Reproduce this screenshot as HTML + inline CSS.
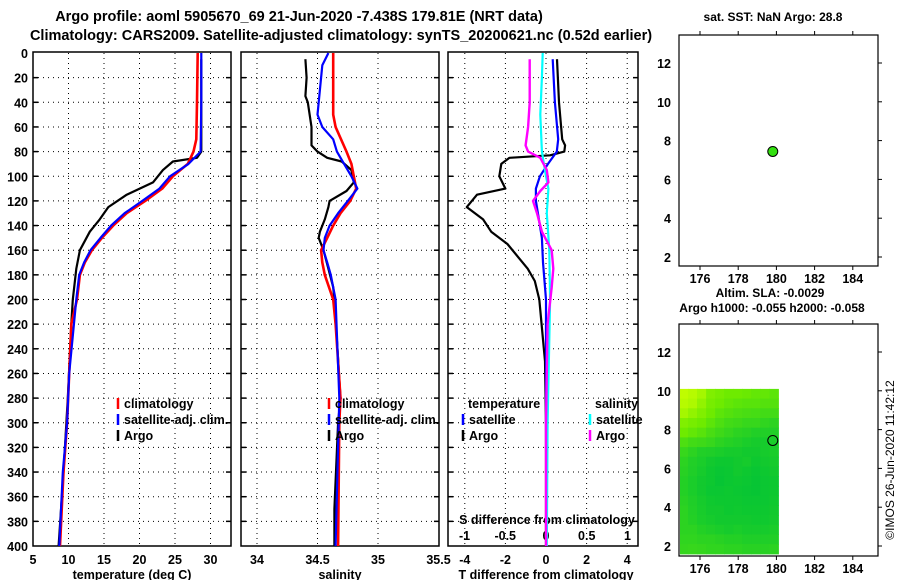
<!DOCTYPE html>
<html><head><meta charset="utf-8"><style>
html,body{margin:0;padding:0;background:#fff;}
svg{display:block;font-family:"Liberation Sans",sans-serif;font-weight:bold;}
</style></head><body>
<svg id="c" width="900" height="580" xmlns="http://www.w3.org/2000/svg"></svg>
<script>
// ---- data ----
const tempClimDepth = [0,40,70,80,90,100,110,120,130,140,150,160,170,180,200,220,260,300,340,400];
const tempClimVal   = [28.2,28.1,28.0,27.6,26.8,24.7,23.2,20.8,18.2,16.3,14.7,13.3,12.3,11.6,11.2,10.4,10.1,9.8,9.3,8.8];
const tempSatDepth  = [0,40,80,90,100,110,120,130,140,150,160,170,180,200,260,300,340,400];
const tempSatVal    = [28.7,28.7,28.6,26.9,24.3,22.8,20.4,17.9,16.0,14.5,13.1,12.2,11.5,11.1,10.1,9.8,9.2,8.7];
const tempArgoDepth = [5,80,85,88,95,105,115,125,135,145,160,175,200,220,280,340,400];
const tempArgoVal   = [28.7,28.7,28.1,24.7,23.3,21.9,18.2,15.6,14.4,13.0,11.6,11.1,10.6,10.4,9.9,9.3,8.6];

const salClimDepth = [0,50,60,80,90,100,110,120,130,140,150,160,170,180,200,220,280,300,400];
const salClimVal   = [34.63,34.63,34.65,34.74,34.78,34.80,34.82,34.77,34.69,34.63,34.58,34.53,34.54,34.56,34.63,34.65,34.69,34.68,34.67];
const salSatDepth  = [0,10,30,50,60,70,80,90,100,110,120,130,140,150,160,170,180,200,280,400];
const salSatVal    = [34.59,34.54,34.52,34.50,34.54,34.63,34.66,34.72,34.78,34.83,34.75,34.67,34.60,34.56,34.55,34.58,34.61,34.65,34.68,34.65];
const salArgoDepth = [5,20,35,40,60,75,80,85,88,95,105,112,120,125,135,145,150,160,175,190,200,280,300,370,400];
const salArgoVal   = [34.40,34.41,34.40,34.42,34.45,34.45,34.50,34.58,34.70,34.78,34.80,34.74,34.60,34.59,34.56,34.52,34.51,34.55,34.59,34.63,34.64,34.69,34.67,34.64,34.64];

const tdArgoDepth = [5,40,70,75,80,83,85,90,100,110,115,125,135,145,155,165,175,185,200,250,300,400];
const tdArgoVal   = [0.54,0.64,0.8,0.94,0.9,0.2,-1.8,-2.2,-2.3,-2.0,-3.4,-3.9,-3.1,-2.7,-1.9,-1.4,-0.9,-0.55,-0.33,-0.05,0,0];
const tdSatDepth  = [5,40,70,80,90,100,110,120,130,150,170,200,300,400];
const tdSatVal    = [0.33,0.44,0.6,0.53,0.1,-0.3,-0.5,-0.5,-0.4,-0.2,-0.15,0,0,0.02];
const sdArgoDepth = [5,40,60,75,80,85,95,105,112,120,130,145,160,175,190,220,300,400];
const sdArgoVal   = [-0.2,-0.2,-0.22,-0.25,-0.22,-0.07,0.01,0.03,-0.07,-0.16,-0.11,-0.05,0.07,0.09,0.07,0.02,0,0];
const sdSatDepth  = [0,20,50,80,100,110,130,160,200,300,400];
const sdSatVal    = [-0.04,-0.05,-0.07,-0.05,0,0.03,0.01,0.04,0.05,0.02,0.01];

const depthTicks = [0,20,40,60,80,100,120,140,160,180,200,220,240,260,280,300,320,340,360,380,400];
const tempTicks = [5,10,15,20,25,30];
const salTicks = ["34","34.5","35","35.5"];
const tdTicks = [-4,-2,0,2,4];
const sdTicks = ["-1","-0.5","0","0.5","1"];
const lonTicks = [176,178,180,182,184];
const latTicks = [2,4,6,8,10,12];
const argoLon = [179.81];
const argoLat = [7.44];
// SLA heatmap values (rows from lat 10 downward, cols from lon 175 eastward), 1 = high (yellow)
const slaGrid = [
 [0.95,0.9,0.8,0.6,0.55,0.5,0.5,0.48,0.45,0.45,0.42],
 [0.9,0.85,0.7,0.55,0.5,0.45,0.42,0.4,0.4,0.38,0.38],
 [0.8,0.7,0.6,0.5,0.42,0.38,0.35,0.33,0.32,0.3,0.3],
 [0.6,0.55,0.5,0.42,0.35,0.3,0.28,0.25,0.25,0.22,0.2],
 [0.5,0.45,0.4,0.33,0.28,0.24,0.2,0.18,0.15,0.15,0.15],
 [0.35,0.3,0.28,0.25,0.2,0.17,0.15,0.12,0.1,0.1,0.12],
 [0.25,0.2,0.15,0.14,0.12,0.1,0.1,0.08,0.08,0.1,0.12],
 [0.2,0.15,0.12,0.08,0.06,0.06,0.08,0.1,0.06,0.08,0.1],
 [0.18,0.14,0.1,0.06,0.04,0.05,0.08,0.06,0.04,0.06,0.08],
 [0.16,0.12,0.08,0.06,0.03,0.05,0.06,0.05,0.03,0.05,0.06],
 [0.16,0.12,0.08,0.05,0.05,0.06,0.05,0.04,0.03,0.05,0.06],
 [0.18,0.14,0.1,0.07,0.06,0.06,0.06,0.05,0.05,0.05,0.07],
 [0.2,0.15,0.11,0.08,0.08,0.06,0.07,0.06,0.06,0.06,0.08],
 [0.2,0.16,0.12,0.1,0.08,0.08,0.08,0.08,0.07,0.07,0.09],
 [0.2,0.2,0.16,0.14,0.12,0.1,0.12,0.1,0.1,0.1,0.12],
 [0.22,0.22,0.2,0.2,0.18,0.16,0.16,0.14,0.14,0.14,0.15],
 [0.24,0.25,0.24,0.22,0.22,0.2,0.2,0.18,0.18,0.18,0.2]
];

// ---- drawing ----
const svgEl = document.getElementById('c');
const NS = 'http://www.w3.org/2000/svg';
function mk(tag, attrs, parent){const el=document.createElementNS(NS,tag);for(const k in attrs)el.setAttribute(k,attrs[k]);(parent||svgEl).appendChild(el);return el;}
function txt(x,y,s,size,anchor,parent){const tt=mk('text',{x:x,y:y,'font-size':size,'text-anchor':anchor||'middle',fill:'#000'},parent);tt.textContent=s;return tt;}

const Y0=53, Y1=546;
const yD = d => Y0 + d*(Y1-Y0)/400;
const xT = v => 33 + (v-5)*7.1;
const xS = v => 257 + (v-34)*121;
const xTD = v => 546 + v*20.3;
const xSD = v => 546 + v*81.5;

function panelFrame(x0,x1,name,xgrid){
  const g=mk('g',{});
  
  
  mk('rect',{x:x0,y:Y0-1,width:x1-x0,height:Y1-Y0+1,fill:'#fff',stroke:'#000','stroke-width':1.5},g);
  depthTicks.forEach(d=>{ if(d>0&&d<400){ mk('line',{x1:x0,x2:x1,y1:yD(d),y2:yD(d),stroke:'#000','stroke-width':1,'stroke-dasharray':'1,4'},g);
    mk('line',{x1:x0,x2:x0+5,y1:yD(d),y2:yD(d),stroke:'#000','stroke-width':1.5},g);
    mk('line',{x1:x1-5,x2:x1,y1:yD(d),y2:yD(d),stroke:'#000','stroke-width':1.5},g);} });
  xgrid.forEach(x=>{ mk('line',{x1:x,x2:x,y1:Y0,y2:Y1,stroke:'#000','stroke-width':1,'stroke-dasharray':'1,4'},g);});
  return g;
}
function line(xs,depths,vals,color,w,name){
  const p=depths.map((d,i)=>xs(vals[i]).toFixed(1)+','+yD(d).toFixed(1)).join(' ');
  const el=mk('polyline',{points:p,fill:'none',stroke:color,'stroke-width':w,'stroke-linejoin':'round'});
  
  
}
function legend(mx,y,color,label,name){
  const g=mk('g',{});
  
  
  mk('line',{x1:mx,x2:mx,y1:y-10,y2:y+1,stroke:color,'stroke-width':2.5},g);
  txt(mx+6,y,label,12.5,'start',g);
}

// titles
let lab=txt(299,21,'Argo profile: aoml 5905670_69 21-Jun-2020 -7.438S 179.81E (NRT data)',14.5);


lab=txt(341,40,'Climatology: CARS2009. Satellite-adjusted climatology: synTS_20200621.nc (0.52d earlier)',14.5);



// panel 1
panelFrame(33,231,'temperature-panel',tempTicks.slice(1).map(xT));
depthTicks.forEach(d=>{const el=txt(28,yD(d)+5,String(d),12.5,'end');

});
tempTicks.forEach(v=>{const el=txt(xT(v),564,String(v),12.5);

});
lab=txt(132,579,'temperature (deg C)',12.5);


line(xT,tempArgoDepth,tempArgoVal,'#000',2.2,'temperature-argo-line');
line(xT,tempClimDepth,tempClimVal,'#f00',2.6,'temperature-climatology-line');
line(xT,tempSatDepth,tempSatVal,'#00f',2.2,'temperature-satellite-line');
legend(118,408,'#f00','climatology','legend-climatology');
legend(118,424,'#00f','satellite-adj. clim.','legend-satellite');
legend(118,440,'#000','Argo','legend-argo');

// panel 2
panelFrame(241,439,'salinity-panel',salTicks.slice(0,3).map(v=>xS(+v)));
salTicks.forEach(v=>{const el=txt(xS(+v),564,v,12.5);

});
lab=txt(340,579,'salinity',12.5);


line(xS,salArgoDepth,salArgoVal,'#000',2.2,'salinity-argo-line');
line(xS,salClimDepth,salClimVal,'#f00',2.6,'salinity-climatology-line');
line(xS,salSatDepth,salSatVal,'#00f',2.2,'salinity-satellite-line');
legend(329,408,'#f00','climatology','legend-climatology-2');
legend(329,424,'#00f','satellite-adj. clim.','legend-satellite-2');
legend(329,440,'#000','Argo','legend-argo-2');

// panel 3
panelFrame(448,638,'difference-panel',tdTicks.map(xTD));
tdTicks.forEach(v=>{const el=txt(xTD(v),564,String(v),12.5);

});
lab=txt(546,579,'T difference from climatology',12.5);


lab=txt(547,524,'S difference from climatology',12.5);


sdTicks.forEach(v=>{const el=txt(xSD(+v),540,v,12.5);

});
line(xTD,tdArgoDepth,tdArgoVal,'#000',2.2,'t-diff-argo-line');
line(xTD,tdSatDepth,tdSatVal,'#00f',2.2,'t-diff-satellite-line');
line(xSD,sdSatDepth,sdSatVal,'#0ff',2.2,'s-diff-satellite-line');
line(xSD,sdArgoDepth,sdArgoVal,'#f0f',2.4,'s-diff-argo-line');
lab=txt(468,408,'temperature',12.5,'start');


lab=txt(595,408,'salinity',12.5,'start');


legend(463,424,'#00f','satellite','legend-t-satellite');
legend(463,440,'#000','Argo','legend-t-argo');
legend(590,424,'#0ff','satellite','legend-s-satellite');
legend(590,440,'#f0f','Argo','legend-s-argo');

// map panels
const MX0=679, MX1=878;
const xL = v => 700 + (v-176)*19.1;
function mapPanel(ytop,ybot,y2,name){
  const yL = v => y2 - (v-2)*19.4;
  const g=mk('g',{});
  
  
  mk('rect',{x:MX0,y:ytop,width:MX1-MX0,height:ybot-ytop,fill:'#fff',stroke:'#000','stroke-width':1.2},g);
  lonTicks.forEach(v=>{const x=xL(v);
    mk('line',{x1:x,x2:x,y1:ytop-4,y2:ytop,stroke:'#000'},g);
    mk('line',{x1:x,x2:x,y1:ybot,y2:ybot+4,stroke:'#000'},g);
    txt(x,ybot+17,String(v),12.5,'middle',g);});
  latTicks.forEach(v=>{const y=yL(v);
    mk('line',{x1:MX1,x2:MX1+4,y1:y,y2:y,stroke:'#000'},g);
    txt(671,y+5,String(v),12.5,'end',g);});
  return {g:g,yL:yL};
}
const sstMap=mapPanel(35,266,257,'sst-map');
let mark=mk('circle',{cx:xL(argoLon[0]),cy:sstMap.yL(argoLat[0]),r:5,fill:'#33e010',stroke:'#000','stroke-width':1});


lab=txt(773,21,'sat. SST: NaN Argo: 28.8',12);



const slaMap=mapPanel(324,556,546,'sla-map');
function col(v){ // 0 green -> 1 yellow
  const a=[0,195,55], b=[110,235,0], c=[200,255,0];
  let r,gg,bb;
  if(v<0.5){const f=v/0.5;r=a[0]+(b[0]-a[0])*f;gg=a[1]+(b[1]-a[1])*f;bb=a[2]+(b[2]-a[2])*f;}
  else{const f=(v-0.5)/0.5;r=b[0]+(c[0]-b[0])*f;gg=b[1]+(c[1]-b[1])*f;bb=b[2]+(c[2]-b[2])*f;}
  return 'rgb('+Math.round(r)+','+Math.round(gg)+','+Math.round(bb)+')';
}
const hm=mk('g',{});


slaGrid.forEach((row,i)=>row.forEach((v,j)=>{
  const lon0=174.9+j*0.4727, lat0=10.1-i*0.5;
  const x=Math.max(MX0+1,xL(lon0)), x2=xL(lon0+0.4727);
  const y=slaMap.yL(lat0), y2=slaMap.yL(Math.max(1.6,lat0-0.5));
  const r=mk('rect',{x:x.toFixed(1),y:y.toFixed(1),width:(x2-x+0.6).toFixed(1),height:(y2-y+0.6).toFixed(1),fill:col(v)},hm);
  
  
}));
mark=mk('circle',{cx:xL(argoLon[0]),cy:slaMap.yL(argoLat[0]),r:5,fill:'none',stroke:'#000','stroke-width':1});


lab=txt(770,297,'Altim. SLA: -0.0029',12);


lab=txt(772,312,'Argo h1000: -0.055 h2000: -0.058',12);


lab=mk('text',{x:0,y:0,'font-size':12,'font-weight':'normal','text-anchor':'middle',transform:'translate(894,460) rotate(-90)'});
lab.textContent='©IMOS 26-Jun-2020 11:42:12';


</script>
</body></html>
